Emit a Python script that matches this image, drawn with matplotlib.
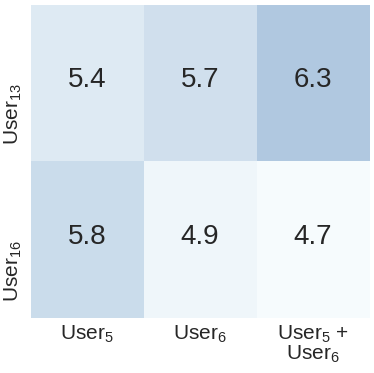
import matplotlib
matplotlib.use('Agg')
import matplotlib.pyplot as plt
import numpy as np
from matplotlib.colors import LinearSegmentedColormap

rows = ['$\\mathregular{User_{13}}$', '$\\mathregular{User_{16}}$']
cols = ['$\\mathregular{User_5}$', '$\\mathregular{User_6}$',
        '$\\mathregular{User_5}$ +\n$\\mathregular{User_6}$']
user13 = [5.4, 5.7, 6.3]
user16 = [5.8, 4.9, 4.7]

plt.rcParams['font.family'] = ['Liberation Sans', 'DejaVu Sans']
plt.rcParams['mathtext.fontset'] = 'custom'
plt.rcParams['mathtext.rm'] = 'Liberation Sans'

vals = np.array([user13, user16])
cmap = LinearSegmentedColormap.from_list('soft', ['#f6fbfd', '#dbe8f2', '#b0c8e0'])

fig = plt.figure(figsize=(3.74, 3.73), dpi=100)
ax = fig.add_axes([0.082, 0.147, 0.905, 0.840])
ax.imshow(vals, cmap=cmap, vmin=4.7, vmax=6.3, aspect='auto')
for i in range(vals.shape[0]):
    for j in range(vals.shape[1]):
        ax.text(j, i - 0.02, '%.1f' % vals[i, j], ha='center', va='center',
                fontsize=20, color='#262626')

ax.set_xticks(range(len(cols)))
ax.set_xticklabels(cols, fontsize=15, linespacing=0.9, va='top')
ax.set_yticks(range(len(rows)))
ax.set_yticklabels(rows, fontsize=15, rotation=90, va='top')
ax.tick_params(axis='x', length=0, pad=4, colors='#262626')
ax.tick_params(axis='y', length=0, pad=5, colors='#262626')
for s in ax.spines.values():
    s.set_visible(False)

plt.savefig('out.png', dpi=100)
